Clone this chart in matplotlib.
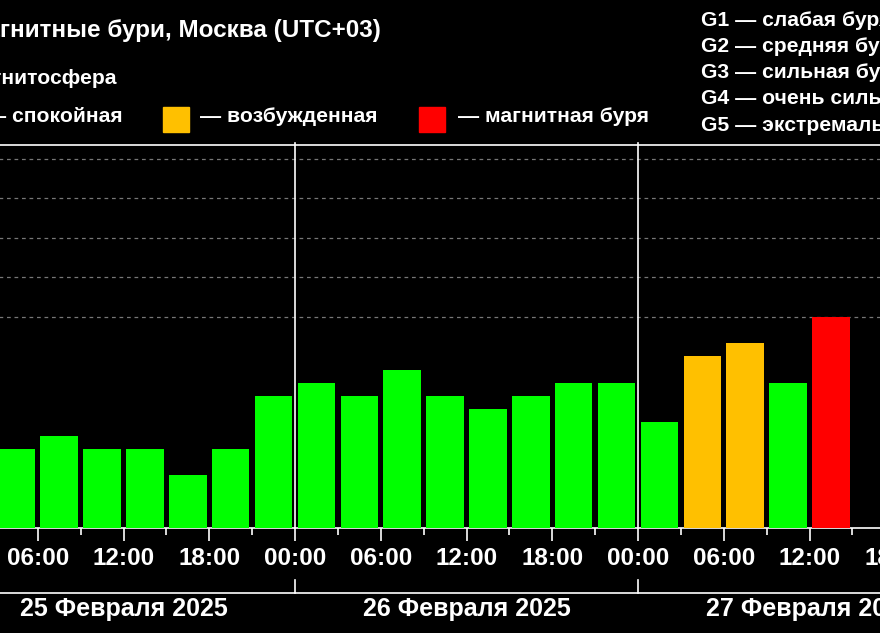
import matplotlib
matplotlib.use("Agg")
import matplotlib.pyplot as plt
from matplotlib.transforms import blended_transform_factory
from matplotlib.lines import Line2D
from matplotlib.patches import Rectangle

plt.rcParams['font.family'] = ['Liberation Sans', 'DejaVu Sans']
plt.rcParams['font.weight'] = 'bold'

slot_hours = list(range(0, 63, 3))  # 3-hour slots from 25 Feb 00:00
kp_values = [1.67, 1.67, 2.0, 1.67, 1.67, 1.0, 1.67, 3.0,
             3.33, 3.0, 3.67, 3.0, 2.67, 3.0, 3.33, 3.33,
             2.33, 4.0, 4.33, 3.33, 5.0]
tick_labels = ["00:00", "06:00", "12:00", "18:00"]
day_labels = ["25 Февраля 2025", "26 Февраля 2025", "27 Февраля 2025"]
storm_lines = ["G1 — слабая буря", "G2 — средняя буря", "G3 — сильная буря",
               "G4 — очень сильная буря", "G5 — экстремальная буря"]

GREEN, ORANGE, RED = "#00ff00", "#ffc000", "#ff0000"
def col(v):
    return RED if v >= 5 else (ORANGE if v >= 4 else GREEN)

W, H = 880, 633
fig = plt.figure(figsize=(W/100, H/100), dpi=100, facecolor="black")
px = lambda x: x / W
py = lambda y: 1 - y / H
ax = fig.add_axes([px(-48), py(528), px(1029), (528-145)/H])
ax.set_facecolor("black")
ymin, ymax = -0.34, 9.35
ax.set_xlim(0, 72)
ax.set_ylim(ymin, ymax)

ax.bar([h + 1.5 for h in slot_hours], [v - ymin for v in kp_values], bottom=ymin,
       width=2.62, color=[col(v) for v in kp_values], zorder=3)

for g in [5, 6, 7, 8, 9]:
    ax.axhline(g, color="#777777", ls=(0, (3, 3)), lw=0.9, zorder=1)

for s in ["left", "right"]:
    ax.spines[s].set_visible(False)
for s in ["top", "bottom"]:
    ax.spines[s].set_color("white")
    ax.spines[s].set_linewidth(1.2)
ax.set_yticks([])
ax.set_xticks(range(0, 73, 6))
ax.set_xticklabels([tick_labels[(h // 6) % 4] for h in range(0, 73, 6)])
ax.set_xticks(range(3, 73, 6), minor=True)
ax.tick_params(axis="x", which="major", colors="white", labelcolor="white",
               length=9.5, width=1.2, labelsize=17.5, pad=4)
ax.tick_params(axis="x", which="minor", colors="white", length=5, width=1.2)
for lab in ax.get_xticklabels():
    lab.set_fontweight("bold")

for d in [24, 48]:
    ax.axvline(d, color="white", lw=1.2, zorder=4, ymax=1.005, clip_on=False)

tr = blended_transform_factory(ax.transData, fig.transFigure)
fig.add_artist(Line2D([px(0), px(W)], [py(593), py(593)], color="white", lw=1.2,
                      transform=fig.transFigure))
for d in [24, 48]:
    fig.add_artist(Line2D([d, d], [py(580), py(593)], color="white", lw=1.2, transform=tr))
for i, lab in enumerate(day_labels):
    fig.text(12 + 24*i, py(609), lab, transform=tr, color="white", fontsize=18,
             fontweight="bold", ha="center", va="center")

fig.text(px(381), py(31), "Магнитные бури, Москва (UTC+03)", color="white", fontsize=17.5,
         fontweight="bold", ha="right", va="center")
fig.text(px(117), py(78), "Магнитосфера", color="white", fontsize=15.2,
         fontweight="bold", ha="right", va="center")
fig.text(px(123), py(117), "— спокойная", color="white", fontsize=15.2,
         fontweight="bold", ha="right", va="center")
fig.add_artist(Rectangle((px(-40), py(132)), px(26), 25/H, color=GREEN, transform=fig.transFigure))
fig.add_artist(Rectangle((px(163), py(132)), px(26), 25/H, color=ORANGE, transform=fig.transFigure))
fig.text(px(200), py(117), "— возбужденная", color="white", fontsize=15.2,
         fontweight="bold", ha="left", va="center")
fig.add_artist(Rectangle((px(419), py(132)), px(26), 25/H, color=RED, transform=fig.transFigure))
fig.text(px(458), py(117), "— магнитная буря", color="white", fontsize=15.2,
         fontweight="bold", ha="left", va="center")
for i, s in enumerate(storm_lines):
    fig.text(px(701), py(20 + 26.3*i), s, color="white", fontsize=15.2,
             fontweight="bold", ha="left", va="center")

fig.savefig("out.png", dpi=100, facecolor="black")
